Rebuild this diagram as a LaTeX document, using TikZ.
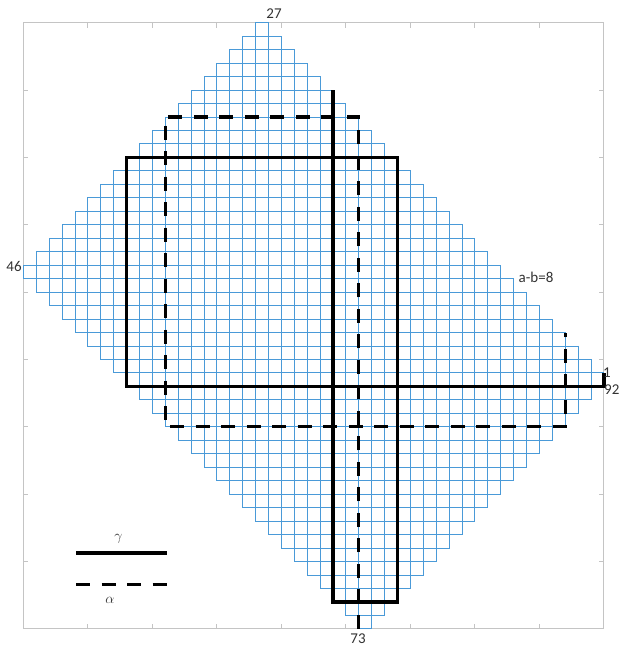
\documentclass[tikz,border=0pt]{standalone}
\usepackage{fontspec}
\setmainfont{Carlito}
\usetikzlibrary{positioning}
\definecolor{latBlue}{HTML}{4A9AD8}
\definecolor{latFrame}{HTML}{C4C4C4}
\definecolor{latInk}{HTML}{333333}

\begin{document}
\begin{tikzpicture}[x=1pt,y=-1pt,line join=miter]
\useasboundingbox[fill=white] (0,0) rectangle (620,649);
\tikzset{cellline/.style={draw=latBlue,line width=0.9pt},gammaline/.style={draw=black,line width=3.2pt},alphaline/.style={gammaline,dash pattern=on 14pt off 11.5pt},framebox/.style={draw=latFrame,line width=1pt},lbl/.style={text=latInk,font=\fontsize{15}{17}\selectfont,inner sep=0pt}}
\begin{scope}[shift={(23.4,22.7)},x=12.9pt,y=-13.47pt]
% frame with ticks every 5 cells
\draw[framebox] (0,0) rectangle (45,45);
\foreach \k in {5,10,...,40}{
  \draw[framebox] (\k,0) -- ++(0,-5pt);
  \draw[framebox] (\k,45) -- ++(0,5pt);
  \draw[framebox] (0,\k) -- ++(5pt,0);
  \draw[framebox] (45,\k) -- ++(-5pt,0);
}
% lattice cells, one row at a time
\foreach \row in {0,...,44}{
  \pgfmathtruncatemacro\colA{abs(\row-18)}
  \pgfmathtruncatemacro\colB{min(18+\row,70-\row)+1}
  \draw[cellline] (\colA,\row) rectangle (\colB,\row+1);
  \foreach \col in {\colA,...,\colB} \draw[cellline] (\col,\row) -- (\col,\row+1);
}
% gamma and alpha outlines
\draw[gammaline] (24,5) -- (24,43) -- (29,43) -- (29,10) -- (8,10) -- (8,27) -- (45,27) -- (45,26);
\draw[alphaline] (26,45) -- (26,7) -- (11,7) -- (11,30) -- (42,30) -- (42,23);
\end{scope}
\node[lbl] (topIdx) at (274,14) {27};
\node[lbl] (leftIdx) at (14,266) {46};
\node[lbl] (diagLbl) at (536,277) {a-b=8};
\node[lbl,anchor=west] (rightIdxA) at (603,373) {1};
\node[lbl,anchor=west] (rightIdxB) at (604,390) {92};
\node[lbl] (bottomIdx) at (358,639) {73};
% legend
\coordinate (gammaA) at (76,553); \coordinate (gammaB) at (167,553);
\draw[gammaline] (gammaA) -- (gammaB);
\node[lbl] (gammaLbl) at (118.5,539) {$\gamma$};
\coordinate (alphaA) at (76,584.5); \coordinate (alphaB) at (167,584.5);
\draw[alphaline] (alphaA) -- (alphaB);
\node[lbl] (alphaLbl) at (110,600) {$\alpha$};
\end{tikzpicture}
\end{document}
